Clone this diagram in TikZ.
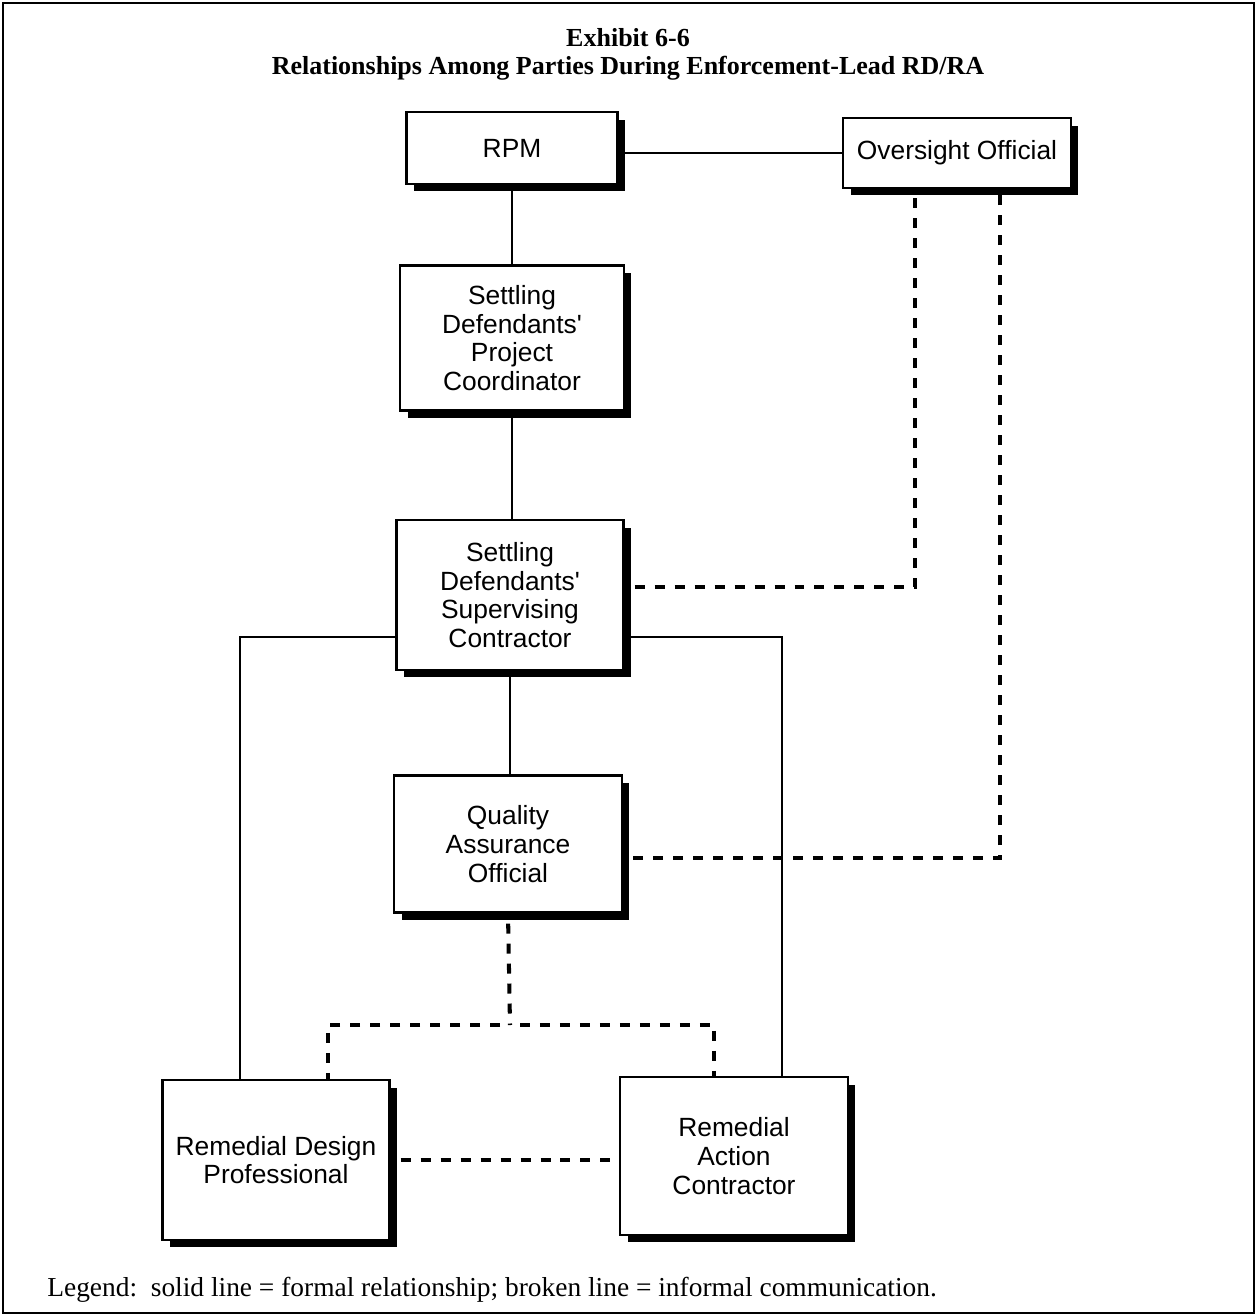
\documentclass[tikz,border=0pt]{standalone}
\usepackage{fontspec}
\setmainfont{Liberation Serif}
\setsansfont{Liberation Sans}
\usetikzlibrary{shadows,calc}

\begin{document}
\begin{tikzpicture}[x=0.02cm,y=-0.02cm,
	party/.style={draw,rectangle,line width=1.2pt,fill=white,align=center,
		font=\sffamily\fontsize{15}{16.4}\selectfont,
		drop shadow={shadow xshift=0.15cm,shadow yshift=-0.15cm,fill=black,opacity=1}},
	formal/.style={line width=1.2pt},
	informal/.style={line width=2.3pt,dash pattern=on 0.2cm off 0.2cm,dash phase=0.2cm}]
	
	\useasboundingbox (0,0) rectangle (1257,1316);
	\draw[line width=1pt] (3,3) rectangle (1254,1313);
	
	% cim
	\node[font=\bfseries\fontsize{14.8}{16}\selectfont] (title) at (628,38) {Exhibit 6-6};
	\node[font=\bfseries\fontsize{14.8}{16}\selectfont] (subtitle) at (628,68) {Relationships Among Parties During Enforcement-Lead RD/RA};
	
	% blokkok
	\node[party,minimum width=4.22cm,minimum height=1.44cm] (rpm) at (512,148) {RPM};
	\node[party,minimum width=4.56cm,minimum height=1.4cm] (over) at (957,153) {Oversight Official};
	\node[party,minimum width=4.48cm,minimum height=2.9cm] (coord) at (512,338) {Settling\\Defendants\textquotesingle\\Project\\Coordinator};
	\node[party,minimum width=4.54cm,minimum height=3cm] (super) at (510,595) {Settling\\Defendants\textquotesingle\\Supervising\\Contractor};
	\node[party,minimum width=4.56cm,minimum height=2.74cm] (qa) at (508,844) {Quality\\Assurance\\Official};
	\node[party,minimum width=4.54cm,minimum height=3.2cm] (rdp) at (276,1160) {Remedial Design\\Professional};
	\node[party,minimum width=4.56cm,minimum height=3.16cm] (rac) at (734,1156) {Remedial\\Action\\Contractor};
	
	% formalis kapcsolatok
	\draw[formal] (over.west) -- (over.west -| rpm.east);
	\draw[formal] (rpm.south) -- (rpm.south |- coord.north);
	\draw[formal] (coord.south) -- (coord.south |- super.north);
	\draw[formal] (super.south) -- (super.south |- qa.north);
	\draw[formal] (super.200) -| ($(rdp.north)+(-36,0)$);
	\draw[formal] (super.340) -| ($(rac.north)+(48,0)$);
	
	% informalis kapcsolatok
	\draw[informal] ([yshift=0.16cm]super.east) -| ($(over.south)+(-42,6)$);
	\draw[informal] ([yshift=-0.28cm]qa.east) -| ($(over.south)+(43,6)$);
	\coordinate (split) at (510,1025);
	\draw[informal] (qa.south) -- (split);
	\draw[informal] (split) -| ($(rdp.north)+(52,0)$);
	\draw[informal] (split) -| ($(rac.north)+(-20,0)$);
	\draw[informal] (rdp.east) -- (rdp.east -| rac.west);
	
	% jelmagyarazat
	\node[anchor=west,font=\fontsize{15.6}{17}\selectfont,inner sep=0pt] (legend) at (47,1290) {Legend:\ \ solid line = formal relationship; broken line = informal communication.};
\end{tikzpicture}
\end{document}
